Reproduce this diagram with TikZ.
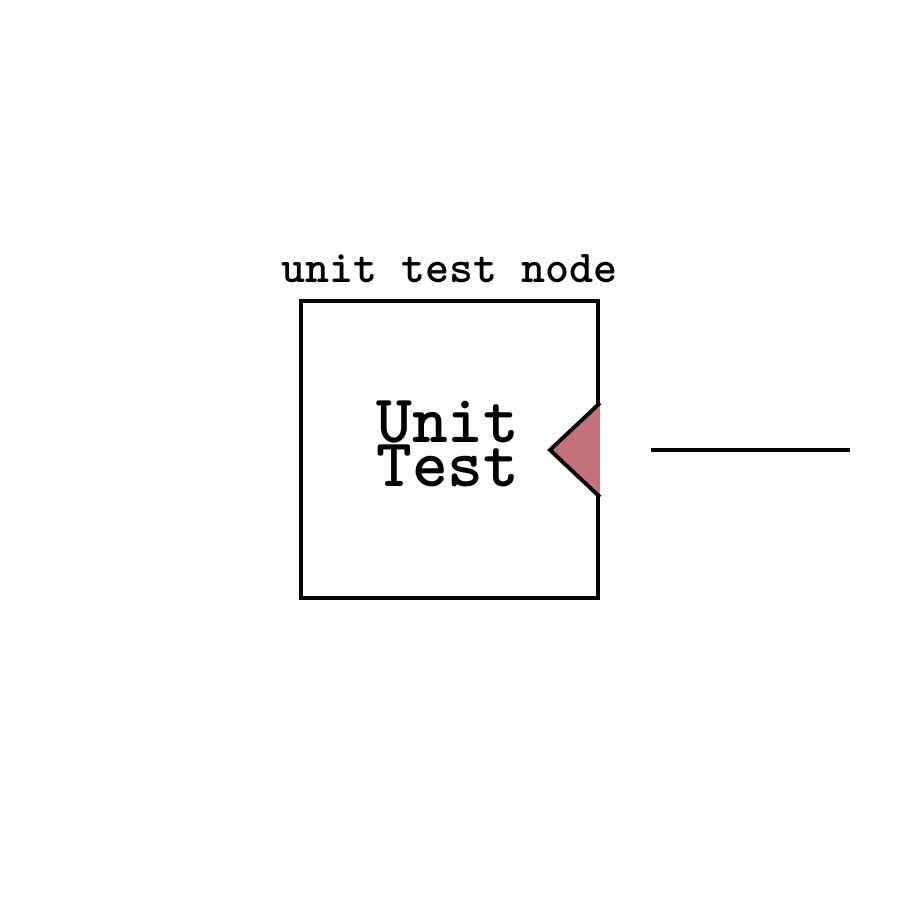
\documentclass[tikz,border=0pt]{standalone}
\usepackage{fontspec}
\definecolor{portred}{HTML}{C4727A}
\tikzset{
  blockbox/.style={draw=black, line width=1.1pt, fill=white},
  portshape/.style={draw=black, line width=1.1pt, fill=portred, line join=miter},
  wire/.style={draw=black, line width=1.0pt},
}
\begin{document}
\begin{tikzpicture}
\useasboundingbox (0,0) rectangle (9,9);
\node[blockbox, minimum width=2.97cm, minimum height=2.97cm, inner sep=0pt] (blk) at (4.495,4.505) {};
\node[anchor=base, font=\ttfamily\bfseries\fontsize{13}{15}\selectfont, inner sep=0pt] (lbl) at (4.495,6.17) {unit test node};
\node[align=center, font=\ttfamily\bfseries\fontsize{19.4}{12.5}\selectfont, inner sep=0pt] (txt) at (4.48,4.56) {Unit\\Test};
\coordinate (pa) at (5.98,4.97);
\coordinate (pb) at (5.50,4.50);
\coordinate (pc) at (5.98,4.03);
\draw[portshape] (blk.east |- pa) -- (pb) -- (blk.east |- pc);
\coordinate (w1) at (6.51,4.50);
\coordinate (w2) at (8.50,4.50);
\draw[wire] (w1) -- (w2);
\end{tikzpicture}
\end{document}
